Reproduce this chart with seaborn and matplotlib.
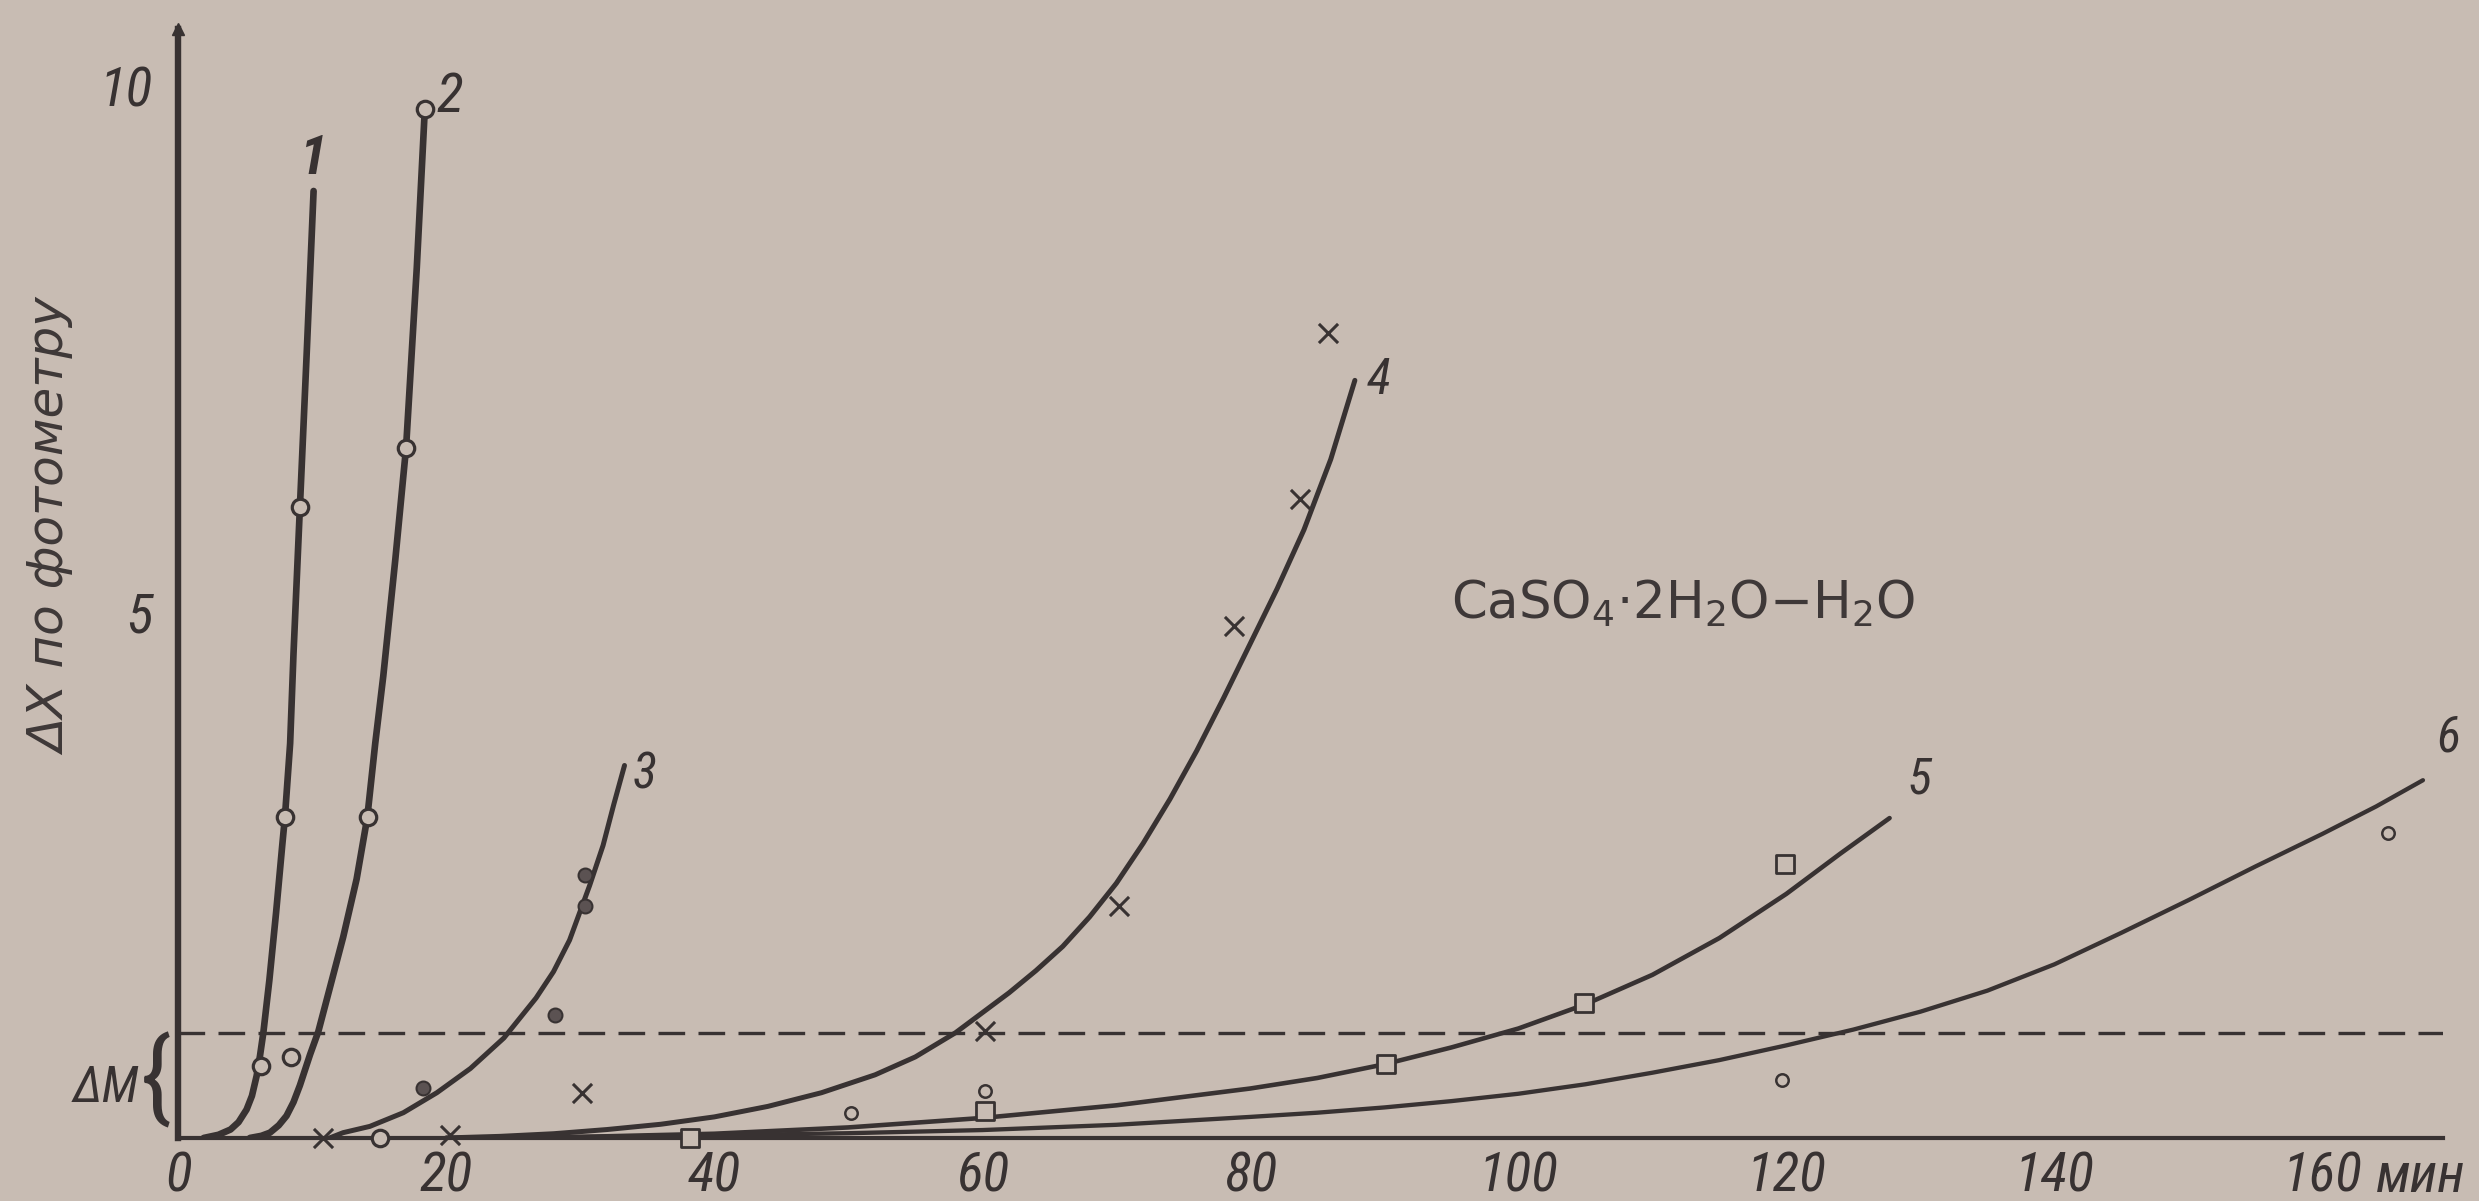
import matplotlib
matplotlib.use("Agg")
import matplotlib.pyplot as plt
from matplotlib import font_manager
import matplotlib.transforms as mtransforms
import pandas as pd
import seaborn as sns

# ---- fitted curves (time, min ; photometer reading) ----
c1_t = [1.9, 3.0, 3.9, 4.5, 5.1, 5.5, 5.85, 6.1, 6.35, 6.8, 7.3, 7.76, 7.96, 8.35, 8.6, 9.08, 9.6, 10.1]
c1_y = [0.0, 0.03, 0.08, 0.15, 0.27, 0.4, 0.59, 0.78, 1.0, 1.5, 2.14, 2.78, 3.05, 3.75, 4.6, 6.0, 7.5, 9.0]

c2_t = [5.35, 6.2, 6.84, 7.5, 8.08, 8.6, 9.08, 9.83, 10.45, 11.32, 12.31, 13.31, 14.1, 14.7, 15.3, 16.2, 17.0, 17.8, 18.4]
c2_y = [0.0, 0.02, 0.05, 0.12, 0.21, 0.34, 0.50, 0.79, 1.01, 1.43, 1.91, 2.46, 3.04, 3.75, 4.39, 5.5, 6.56, 8.27, 9.78]

c3_t = [11.3, 12.3, 14.3, 16.8, 19.3, 21.8, 24.3, 26.7, 28.0, 29.2, 30.7, 31.7, 32.5, 33.3]
c3_y = [0.0, 0.05, 0.11, 0.24, 0.43, 0.66, 0.95, 1.33, 1.58, 1.88, 2.40, 2.78, 3.17, 3.54]

c4_t = [20, 24, 28, 32, 36, 40, 44, 48, 52, 55, 58, 60, 62, 64, 66, 68, 70, 72, 74, 76, 78, 80, 82, 84, 86, 87.8]
c4_y = [0.0, 0.015, 0.04, 0.08, 0.13, 0.2, 0.3, 0.43, 0.6, 0.77, 1.0, 1.19, 1.38, 1.59, 1.82, 2.1, 2.42, 2.8,
        3.22, 3.68, 4.18, 4.7, 5.22, 5.78, 6.45, 7.2]

c5_t = [20, 30, 40, 50, 60, 70, 80, 85, 90, 95, 100, 105, 110, 115, 120, 124, 127.7]
c5_y = [0.0, 0.01, 0.04, 0.1, 0.19, 0.31, 0.47, 0.57, 0.7, 0.86, 1.04, 1.27, 1.55, 1.9, 2.32, 2.7, 3.04]

c6_t = [22, 30, 40, 50, 60, 70, 80, 85, 90, 95, 100, 105, 110, 115, 120, 125, 130, 135, 140, 145, 150,
        155, 160, 164, 167.5]
c6_y = [0.0, 0.01, 0.025, 0.045, 0.075, 0.125, 0.2, 0.24, 0.29, 0.35, 0.42, 0.51, 0.62, 0.74, 0.88, 1.03,
        1.2, 1.4, 1.65, 1.95, 2.26, 2.58, 2.89, 3.15, 3.4]

# ---- measured points ----
open_t = [6.15, 8.45, 7.96, 9.08, 14.15, 17.0, 18.4, 15.05]
open_y = [0.68, 0.77, 3.05, 6.0, 3.05, 6.56, 9.78, 0.0]

dots_t = [18.3, 28.1, 30.35, 30.35]
dots_y = [0.47, 1.17, 2.2, 2.5]

cross_t = [10.8, 20.3, 30.1, 60.2, 70.2, 78.8, 83.7, 85.8]
cross_y = [0.0, 0.03, 0.43, 1.02, 2.2, 4.87, 6.07, 7.65]

square_t = [38.2, 60.2, 90.1, 104.9, 119.9]
square_y = [0.0, 0.26, 0.7, 1.28, 2.6]

small_t = [50.2, 60.2, 119.7, 164.9]
small_y = [0.24, 0.45, 0.55, 2.9]

# curve numbers and where they are written
curve_names = ["1", "2", "3", "4", "5", "6"]
name_t = [10.0, 20.3, 34.8, 89.6, 129.9, 169.4]
name_y = [9.3, 9.9, 3.45, 7.2, 3.4, 3.8]

dm_level = 1.0
x_ticks = [0, 20, 40, 60, 80, 100, 120, 140, 160]
y_ticks = [5, 10]

# ---- fonts ----
sns.set_theme(style="white")
ttf = font_manager.fontManager.ttflist
have = {f.name for f in ttf}
have_it = {f.name for f in ttf if f.style == "italic"}
prefer = ["Liberation Sans Narrow", "Arial Narrow", "Roboto Condensed", "PT Sans Narrow",
          "Fira Sans Condensed", "IBM Plex Sans Condensed", "Sofia Sans Condensed",
          "Open Sans Condensed", "Encode Sans Condensed", "Archivo Narrow", "Asap Condensed",
          "Barlow Condensed", "Saira Condensed"]
NARROW = next((n for n in prefer if n in have_it), None)
if NARROW is None:
    NARROW = next((n for n in prefer if n in have), None)
if NARROW is None:
    extra = sorted(n for n in have_it if "Condensed" in n or "Narrow" in n)
    NARROW = extra[0] if extra else "DejaVu Sans"
plt.rcParams["font.family"] = [NARROW, "DejaVu Sans"]
plt.rcParams["mathtext.fontset"] = "custom"
plt.rcParams["mathtext.rm"] = "DejaVu Sans"
WIDE = ["DejaVu Sans"]

PAPER = "#c8bcb3"
INK = "#383232"
SOFT = "#3e3838"

fig = plt.figure(figsize=(24.79, 12.01), dpi=100, facecolor=PAPER)
ax = fig.add_axes([0.0719, 0.0525, 0.9136, 0.9234])
ax.set_facecolor(PAPER)

curves = [(c1_t, c1_y, 4.8), (c2_t, c2_y, 4.8), (c3_t, c3_y, 3.6),
          (c4_t, c4_y, 3.6), (c5_t, c5_y, 3.3), (c6_t, c6_y, 3.1)]
for t, y, lw in curves:
    df = pd.DataFrame({"t": t, "dx": y})
    sns.lineplot(data=df, x="t", y="dx", estimator=None, sort=False,
                 color=INK, lw=lw, ax=ax, zorder=3,
                 solid_joinstyle="round", solid_capstyle="round")

ax.axhline(dm_level, color=INK, lw=2.4, dashes=(8, 4), zorder=2)

sns.scatterplot(x=open_t, y=open_y, marker="o", s=140, facecolor=PAPER,
                edgecolor=INK, linewidth=2.3, ax=ax, zorder=5, clip_on=False)
sns.scatterplot(x=small_t, y=small_y, marker="o", s=80, facecolor=PAPER,
                edgecolor=INK, linewidth=1.8, ax=ax, zorder=5, clip_on=False)
sns.scatterplot(x=dots_t, y=dots_y, marker="o", s=100, color="#5b5252",
                edgecolor=INK, linewidth=1.5, ax=ax, zorder=5, clip_on=False)
sns.scatterplot(x=cross_t, y=cross_y, marker="x", s=190, color=INK,
                linewidth=2.2, ax=ax, zorder=5, clip_on=False)
sns.scatterplot(x=square_t, y=square_y, marker="s", s=170, facecolor=PAPER,
                edgecolor=INK, linewidth=2.0, ax=ax, zorder=5, clip_on=False)

for name, t, y in zip(curve_names, name_t, name_y):
    big = name in ("1", "2")
    ax.text(t, y, name, fontsize=40 if big else 36, style="italic",
            fontweight="bold" if name == "1" else "normal",
            color=INK, ha="center", va="center")

ax.text(95.0, 5.08, r"CaSO$_4$·2H$_2$O$-$H$_2$O", fontsize=37, family=WIDE,
        color=SOFT, ha="left", va="center")

# ---- axes ----
ax.set_xlim(0, 169)
ax.set_ylim(0, 10.54)
for side in ("top", "right"):
    ax.spines[side].set_visible(False)
ax.spines["left"].set_linewidth(4.6)
ax.spines["bottom"].set_linewidth(3.0)
ax.spines["left"].set_color(INK)
ax.spines["bottom"].set_color(INK)

ax.set_xticks(x_ticks)
ax.set_xticklabels([str(v) for v in x_ticks])
ax.set_yticks(y_ticks)
ax.set_yticklabels([str(v) for v in y_ticks])
ax.tick_params(axis="x", direction="in", length=16, width=2.0, pad=9,
               labelsize=40, colors=INK)
ax.tick_params(axis="y", direction="in", length=19, width=2.4, pad=18,
               labelsize=40, colors=INK)
for lab in ax.get_xticklabels() + ax.get_yticklabels():
    lab.set_style("italic")
ax.set_xlabel("")
ax.set_ylabel("")

# unit after the last tick label
trans = mtransforms.blended_transform_factory(ax.transData, ax.transAxes)
ax.annotate("мин", xy=(164.0, 0), xycoords=trans, xytext=(0, -9),
            textcoords="offset points", ha="left", va="top", fontsize=40,
            style="italic", color=INK, annotation_clip=False)

# arrow head on the ordinate
ax.plot([0], [1.0], marker="^", ms=9, color=INK, transform=ax.transAxes,
        clip_on=False, zorder=6)

fig.text(52 / 2479, 1 - 527 / 1201, "ΔX по фотометру", rotation=90,
         fontsize=36, style="italic", family=WIDE, color=SOFT,
         ha="center", va="center")
fig.text(106 / 2479, 1 - 1088 / 1201, "ΔM", fontsize=36, style="italic",
         color=INK, ha="center", va="center")
fig.text(156 / 2479, 1 - 1082 / 1201, "{", fontsize=72, color=INK,
         ha="center", va="center")

fig.savefig("out.png", dpi=100, facecolor=PAPER)
